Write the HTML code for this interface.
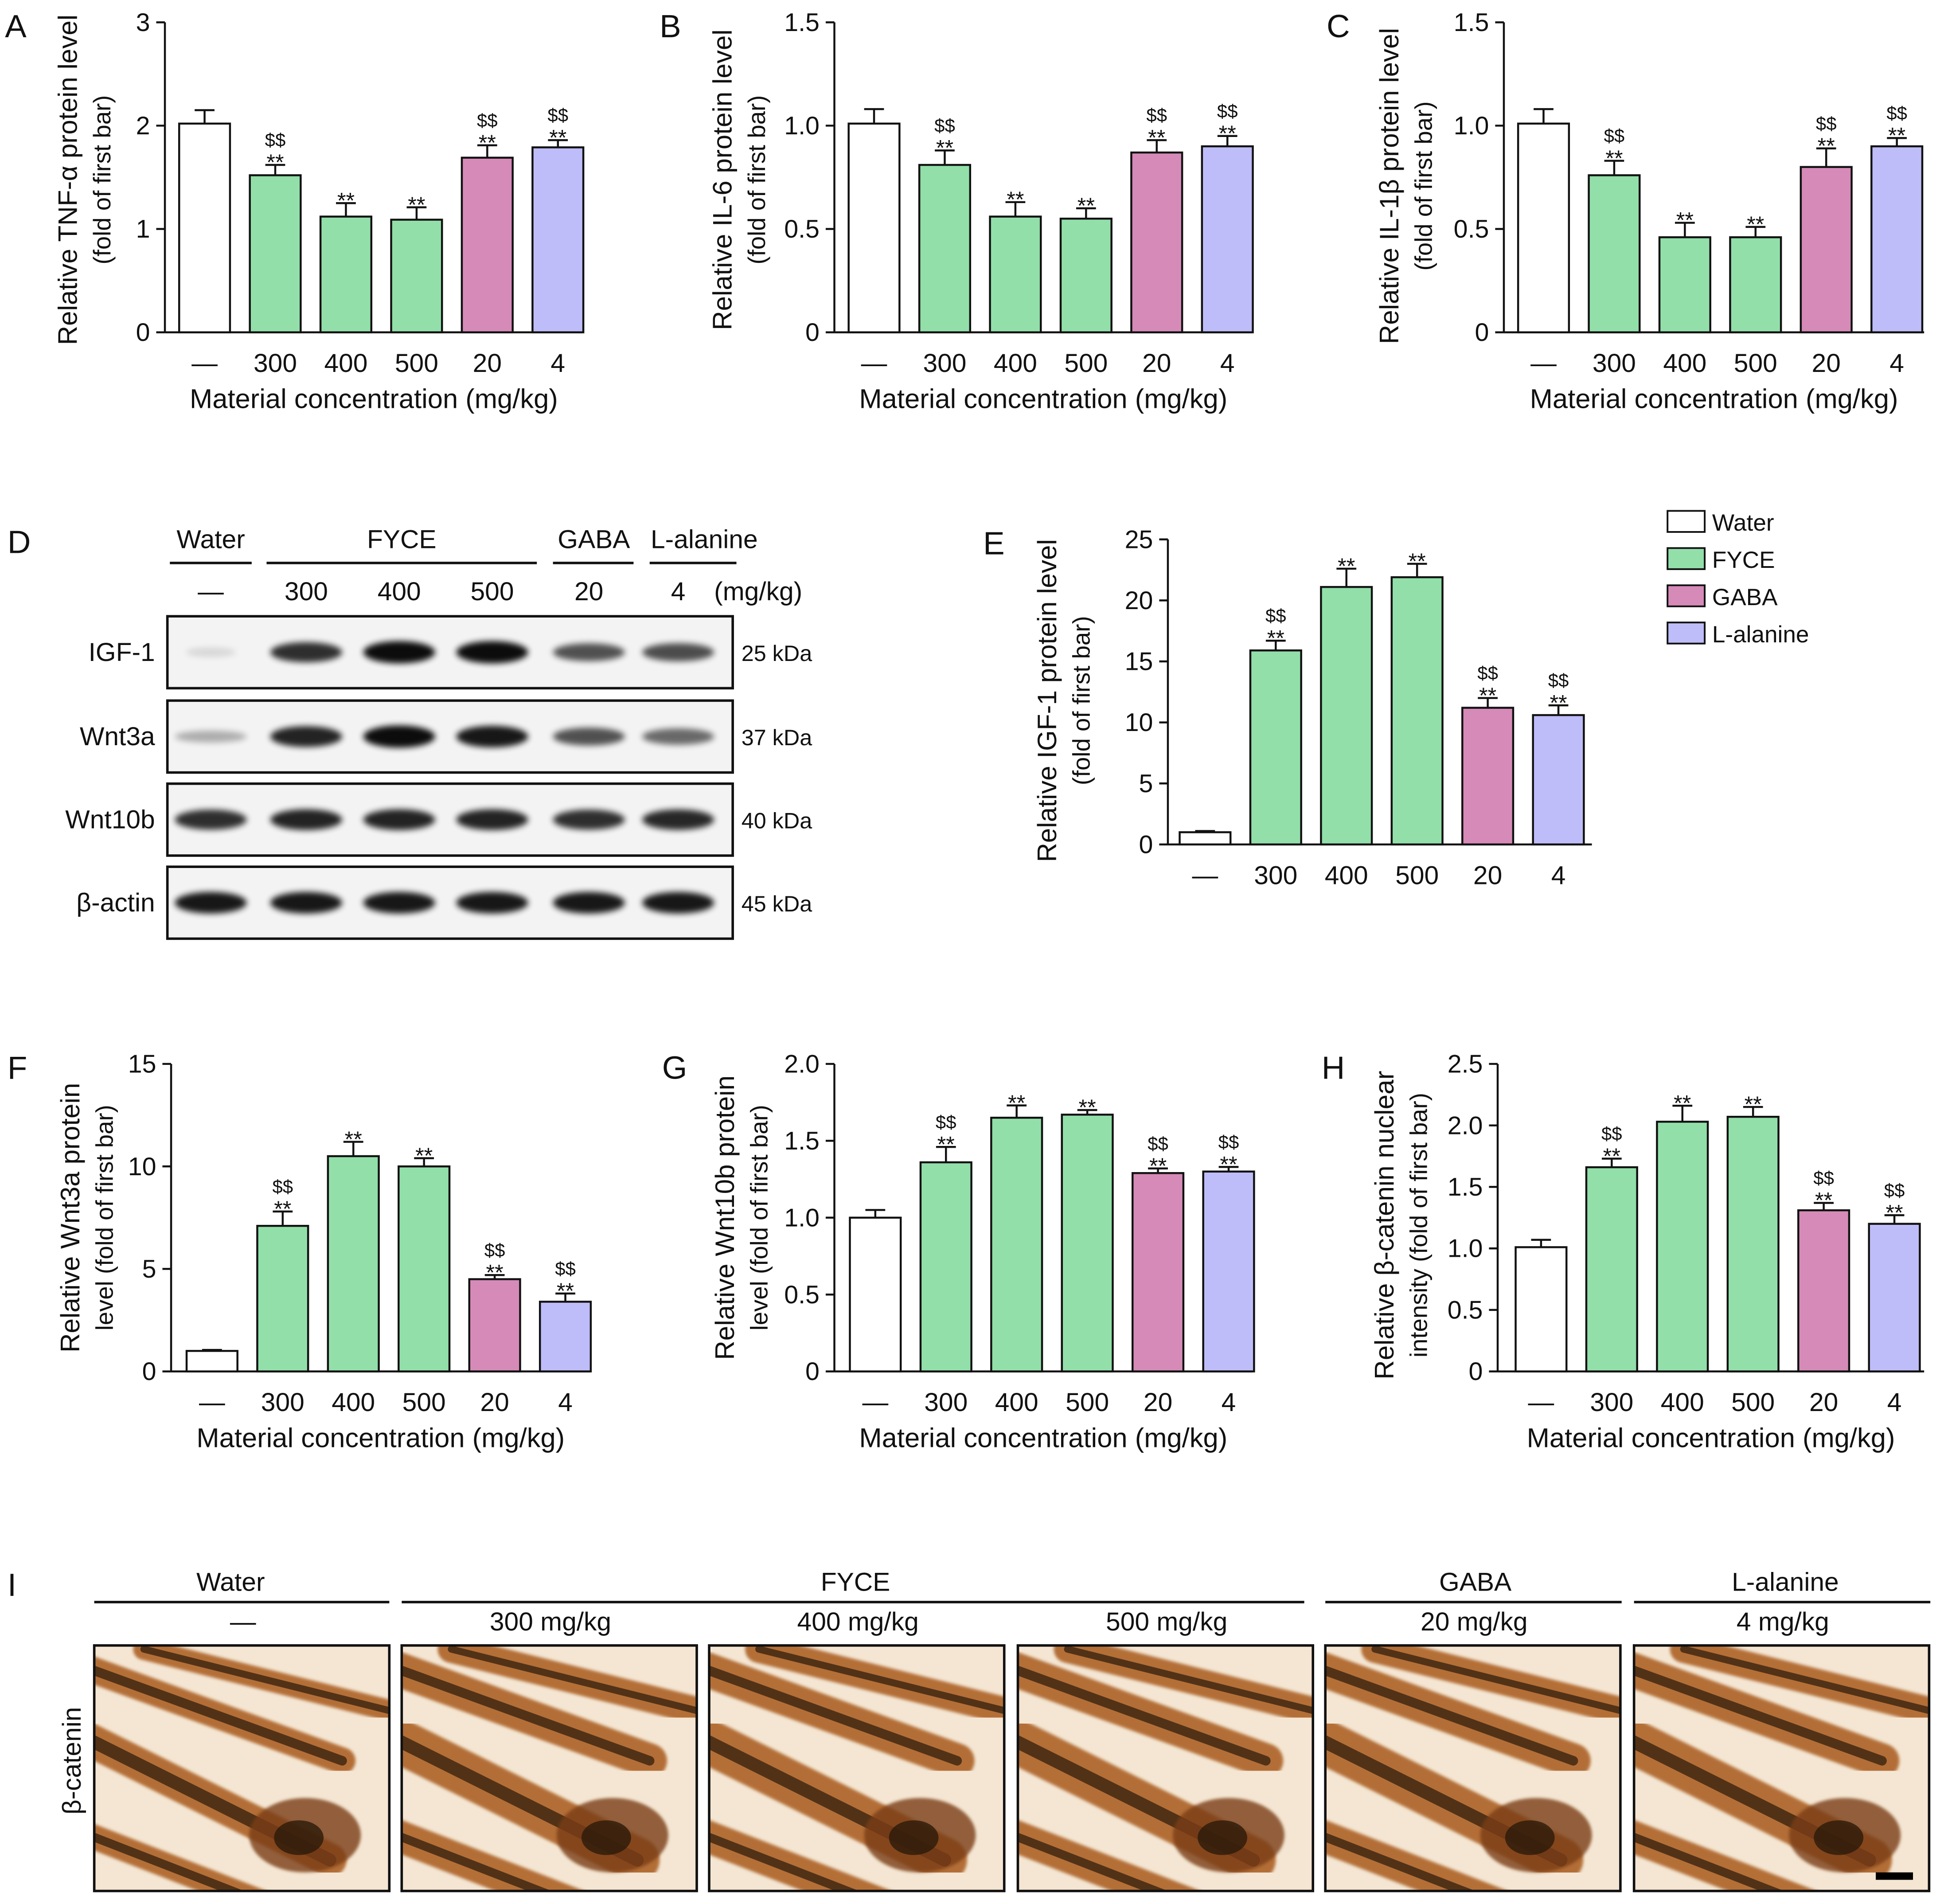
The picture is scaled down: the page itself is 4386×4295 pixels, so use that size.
<!DOCTYPE html>
<html><head><meta charset="utf-8"><style>
html,body{margin:0;padding:0;background:#fff}
svg{display:block}
text{font-family:"Liberation Sans",Arial,sans-serif;fill:#111}
</style></head><body>
<svg id="fig" xmlns="http://www.w3.org/2000/svg" width="4386" height="4295" viewBox="0 0 1568 1535.5">
<defs>
<filter id="blur" x="-20%" y="-50%" width="140%" height="200%"><feGaussianBlur stdDeviation="2.5"/></filter>
<filter id="blur2"><feGaussianBlur stdDeviation="1.2"/></filter>
</defs>
<g id="charts"></g>
<g id="blot"></g>
<g id="histo"></g>
</svg>
<script>
// ---------- data ----------
const categories = ["—","300","400","500","20","4"];
const barColors = ["#ffffff","#92dfaa","#92dfaa","#92dfaa","#d68ab8","#bebdfa"];
const aValues = [2.02,1.52,1.12,1.09,1.69,1.79];
const aErrors = [0.13,0.10,0.13,0.12,0.12,0.07];
const aStars = ["","**","**","**","**","**"];
const aDollars = ["","$$","","","$$","$$"];
const aTicks = ["0","1","2","3"];
const bValues = [1.01,0.81,0.56,0.55,0.87,0.90];
const bErrors = [0.07,0.07,0.07,0.05,0.06,0.05];
const bStars = ["","**","**","**","**","**"];
const bDollars = ["","$$","","","$$","$$"];
const bTicks = ["0","0.5","1.0","1.5"];
const cValues = [1.01,0.76,0.46,0.46,0.80,0.90];
const cErrors = [0.07,0.07,0.07,0.05,0.09,0.04];
const cStars = ["","**","**","**","**","**"];
const cDollars = ["","$$","","","$$","$$"];
const cTicks = ["0","0.5","1.0","1.5"];
const eValues = [1.0,15.9,21.1,21.9,11.2,10.6];
const eErrors = [0.1,0.8,1.5,1.1,0.8,0.8];
const eStars = ["","**","**","**","**","**"];
const eDollars = ["","$$","","","$$","$$"];
const eTicks = ["0","5","10","15","20","25"];
const fValues = [1.0,7.1,10.5,10.0,4.5,3.4];
const fErrors = [0.05,0.7,0.7,0.4,0.2,0.4];
const fStars = ["","**","**","**","**","**"];
const fDollars = ["","$$","","","$$","$$"];
const fTicks = ["0","5","10","15"];
const gValues = [1.0,1.36,1.65,1.67,1.29,1.30];
const gErrors = [0.05,0.10,0.08,0.03,0.03,0.03];
const gStars = ["","**","**","**","**","**"];
const gDollars = ["","$$","","","$$","$$"];
const gTicks = ["0","0.5","1.0","1.5","2.0"];
const hValues = [1.01,1.66,2.03,2.07,1.31,1.20];
const hErrors = [0.06,0.07,0.13,0.08,0.06,0.07];
const hStars = ["","**","**","**","**","**"];
const hDollars = ["","$$","","","$$","$$"];
const hTicks = ["0","0.5","1.0","1.5","2.0","2.5"];
const legendLabels = ["Water","FYCE","GABA","L-alanine"];
const blotRows = ["IGF-1","Wnt3a","Wnt10b","β-actin"];
const blotKDa = ["25 kDa","37 kDa","40 kDa","45 kDa"];
const igfBands = [0.12,0.85,1.0,1.0,0.7,0.72];
const wnt3aBands = [0.3,0.9,1.0,0.95,0.7,0.6];
const wnt10bBands = [0.85,0.9,0.9,0.9,0.85,0.88];
const actinBands = [0.95,0.95,0.95,0.95,0.95,0.95];

const NS="http://www.w3.org/2000/svg";
function mk(tag,attrs,parent,txt){const e=document.createElementNS(NS,tag);for(const k in attrs)e.setAttribute(k,attrs[k]);if(txt!==undefined)e.textContent=txt;parent.appendChild(e);return e;}
const root=document.getElementById('charts');

function chart(c){
  const g=mk('g',{},root);
  
  
  const yS=v=>c.base-(v/c.max)*(c.base-c.top);
  const xS=i=>c.x0+c.sp*i;
  const lt=mk('text',{x:c.letterX,y:c.letterY,'font-size':26},g,c.letter);
  
  
  mk('line',{x1:c.ax,y1:c.top,x2:c.ax,y2:c.base,stroke:'#111','stroke-width':1.6},g);
  mk('line',{x1:c.ax,y1:c.base,x2:c.axEnd,y2:c.base,stroke:'#111','stroke-width':1.6},g);
  const n=c.ticks.length;
  for(let i=0;i<n;i++){
    const v=c.max*i/(n-1);const y=yS(v);
    mk('line',{x1:c.ax-7,y1:y,x2:c.ax,y2:y,stroke:'#111','stroke-width':1.6},g);
    const t=mk('text',{x:c.ax-12,y:y+7,'font-size':20.5,'text-anchor':'end'},g,c.ticks[i]);
    
    
  }
  const bw=41;
  for(let i=0;i<c.values.length;i++){
    const x=xS(i),v=c.values[i],y=yS(v),ye=yS(v+c.errors[i]);
    mk('line',{x1:x,y1:y,x2:x,y2:ye,stroke:'#111','stroke-width':1.6},g);
    mk('line',{x1:x-8,y1:ye,x2:x+8,y2:ye,stroke:'#111','stroke-width':1.6},g);
    const r=mk('rect',{x:x-bw/2,y:y,width:bw,height:c.base-y,fill:barColors[i],stroke:'#111','stroke-width':1.6},g);
    
    
    if(c.stars[i]) mk('text',{x:x,y:ye+4,'font-size':18,'text-anchor':'middle'},g,c.stars[i]);
    if(c.dollars[i]) mk('text',{x:x,y:ye-15,'font-size':15,'text-anchor':'middle'},g,c.dollars[i]);
    const t=mk('text',{x:x,y:c.base+32,'font-size':21,'text-anchor':'middle'},g,categories[i]);
    
    
  }
  if(c.xlabel){const t=mk('text',{x:(c.ax+c.axEnd)/2,y:c.base+61,'font-size':22,'text-anchor':'middle'},g,c.xlabel);
    }
  c.ylab.forEach((s,k)=>{const t=mk('text',{x:0,y:0,'font-size':k==0?21.5:19.5,'text-anchor':'middle',transform:`translate(${c.ylx+k*27},${c.yly}) rotate(-90)`},g,s);
    });
}
const XL="Material concentration (mg/kg)";
chart({name:'chart-a-tnf',letter:'A',letterX:4,letterY:30,ax:133,axEnd:470,base:268,top:18,max:3,x0:165,sp:57,values:aValues,errors:aErrors,stars:aStars,dollars:aDollars,ticks:aTicks,xlabel:XL,ylab:["Relative TNF-α protein level","(fold of first bar)"],ylx:62,yly:145});
chart({name:'chart-b-il6',letter:'B',letterX:532,letterY:30,ax:673,axEnd:1010,base:268,top:18,max:1.5,x0:705,sp:57,values:bValues,errors:bErrors,stars:bStars,dollars:bDollars,ticks:bTicks,xlabel:XL,ylab:["Relative IL-6 protein level","(fold of first bar)"],ylx:590,yly:145});
chart({name:'chart-c-il1b',letter:'C',letterX:1070,letterY:30,ax:1213,axEnd:1552,base:268,top:18,max:1.5,x0:1245,sp:57,values:cValues,errors:cErrors,stars:cStars,dollars:cDollars,ticks:cTicks,xlabel:XL,ylab:["Relative IL-1β protein level","(fold of first bar)"],ylx:1128,yly:150});
chart({name:'chart-e-igf1',letter:'E',letterX:793,letterY:447,ax:942,axEnd:1284,base:681,top:435,max:25,x0:972,sp:57,values:eValues,errors:eErrors,stars:eStars,dollars:eDollars,ticks:eTicks,xlabel:null,ylab:["Relative IGF-1 protein level","(fold of first bar)"],ylx:852,yly:565});
chart({name:'chart-f-wnt3a',letter:'F',letterX:6,letterY:870,ax:138,axEnd:476,base:1106,top:858,max:15,x0:171,sp:57,values:fValues,errors:fErrors,stars:fStars,dollars:fDollars,ticks:fTicks,xlabel:XL,ylab:["Relative Wnt3a protein","level (fold of first bar)"],ylx:64,yly:982});
chart({name:'chart-g-wnt10b',letter:'G',letterX:534,letterY:870,ax:673,axEnd:1010,base:1106,top:858,max:2.0,x0:706,sp:57,values:gValues,errors:gErrors,stars:gStars,dollars:gDollars,ticks:gTicks,xlabel:XL,ylab:["Relative Wnt10b protein","level (fold of first bar)"],ylx:592,yly:982});
chart({name:'chart-h-bcatenin',letter:'H',letterX:1066,letterY:870,ax:1208,axEnd:1552,base:1106,top:858,max:2.5,x0:1243,sp:57,values:hValues,errors:hErrors,stars:hStars,dollars:hDollars,ticks:hTicks,xlabel:XL,ylab:["Relative β-catenin nuclear","intensity (fold of first bar)"],ylx:1124,yly:988});

const lg=mk('g',{},root);


legendLabels.forEach((s,i)=>{const y=412+i*30;
  const r=mk('rect',{x:1345,y:y,width:30,height:17,fill:barColors[i==0?0:i==1?1:i+2],stroke:'#111','stroke-width':1.4},lg);
  
  const t=mk('text',{x:1381,y:y+16,'font-size':19},lg,s);
  });

const bl=document.getElementById('blot');
mk('text',{x:6,y:446,'font-size':26},bl,'D');
const lanes=[170,247,322,397,475,547];
[[137,203,'Water',170],[215,433,'FYCE',324],[446,511,'GABA',479],[524,594,'L-alanine',568]].forEach(h=>{
  mk('text',{x:h[3],y:442,'font-size':21,'text-anchor':'middle'},bl,h[2]);
  mk('line',{x1:h[0],y1:454,x2:h[1],y2:454,stroke:'#111','stroke-width':2},bl);});
["—","300","400","500","20","4"].forEach((s,i)=>mk('text',{x:lanes[i],y:484,'font-size':21,'text-anchor':'middle'},bl,s));
mk('text',{x:576,y:484,'font-size':21},bl,'(mg/kg)');
const rowsY=[497,565,632,699];
const bands=[igfBands,wnt3aBands,wnt10bBands,actinBands];
rowsY.forEach((y,r)=>{
  const box=mk('rect',{x:135,y:y,width:456,height:58,fill:'#f3f3f3',stroke:'#111','stroke-width':2},bl);
  
  bands[r].forEach((v,i)=>{
    const w=r==0&&i==0?40:58, h=6+v*12;
    mk('ellipse',{cx:lanes[i],cy:y+29,rx:w/2,ry:h/2,fill:'#000',opacity:Math.min(1,v*0.95),filter:'url(#blur)'},bl);});
  mk('text',{x:125,y:y+36,'font-size':21,'text-anchor':'end'},bl,blotRows[r]);
  mk('text',{x:598,y:y+36,'font-size':18},bl,blotKDa[r]);
});

const hs=document.getElementById('histo');
mk('text',{x:6,y:1287,'font-size':26},hs,'I');
[[76,314,'Water',186],[324,1052,'FYCE',690],[1069,1308,'GABA',1190],[1318,1557,'L-alanine',1440]].forEach(h=>{
  mk('text',{x:h[3],y:1283,'font-size':21,'text-anchor':'middle'},hs,h[2]);
  mk('line',{x1:h[0],y1:1292,x2:h[1],y2:1292,stroke:'#111','stroke-width':2},hs);});
const imgX=[76,324,572,821,1069,1318];
const doseLbl=["—","300 mg/kg","400 mg/kg","500 mg/kg","20 mg/kg","4 mg/kg"];
mk('text',{x:0,y:0,'font-size':21,'text-anchor':'middle',transform:'translate(65,1420) rotate(-90)'},hs,'β-catenin');
imgX.forEach((x,i)=>{
  mk('text',{x:x+120,y:1315,'font-size':21,'text-anchor':'middle'},hs,doseLbl[i]);
  const g=mk('g',{},hs);
  
  const cid='clip'+i;const cp=mk('clipPath',{id:cid},g);mk('rect',{x:x,y:1327,width:238,height:198},cp);
  const inner=mk('g',{'clip-path':`url(#${cid})`},g);
  mk('rect',{x:x,y:1327,width:238,height:198,fill:'#f4e6d3'},inner);
  const d=i==0?0.7:1;
  [[-20,1340,200,1420,22],[-10,1400,190,1500,30],[40,1330,240,1380,16],[-30,1470,150,1540,20]].forEach(f=>{
    mk('line',{x1:x+f[0],y1:f[1],x2:x+f[2],y2:f[3],stroke:'#a85a1c','stroke-width':f[4]*d+6,'stroke-linecap':'round',opacity:0.85,filter:'url(#blur2)'},inner);
    mk('line',{x1:x+f[0],y1:f[1],x2:x+f[2],y2:f[3],stroke:'#3a2410','stroke-width':f[4]*0.35,'stroke-linecap':'round',opacity:0.8},inner);
  });
  mk('ellipse',{cx:x+170,cy:1480,rx:45,ry:30,fill:'#7a3c12',opacity:0.8,filter:'url(#blur2)'},inner);
  mk('ellipse',{cx:x+165,cy:1482,rx:20,ry:14,fill:'#2a1a0a',opacity:0.8},inner);
  mk('rect',{x:x,y:1327,width:238,height:198,fill:'none',stroke:'#111','stroke-width':2},g);
});
mk('rect',{x:1513,y:1510,width:30,height:6,fill:'#000'},hs);
</script>
</body></html>
